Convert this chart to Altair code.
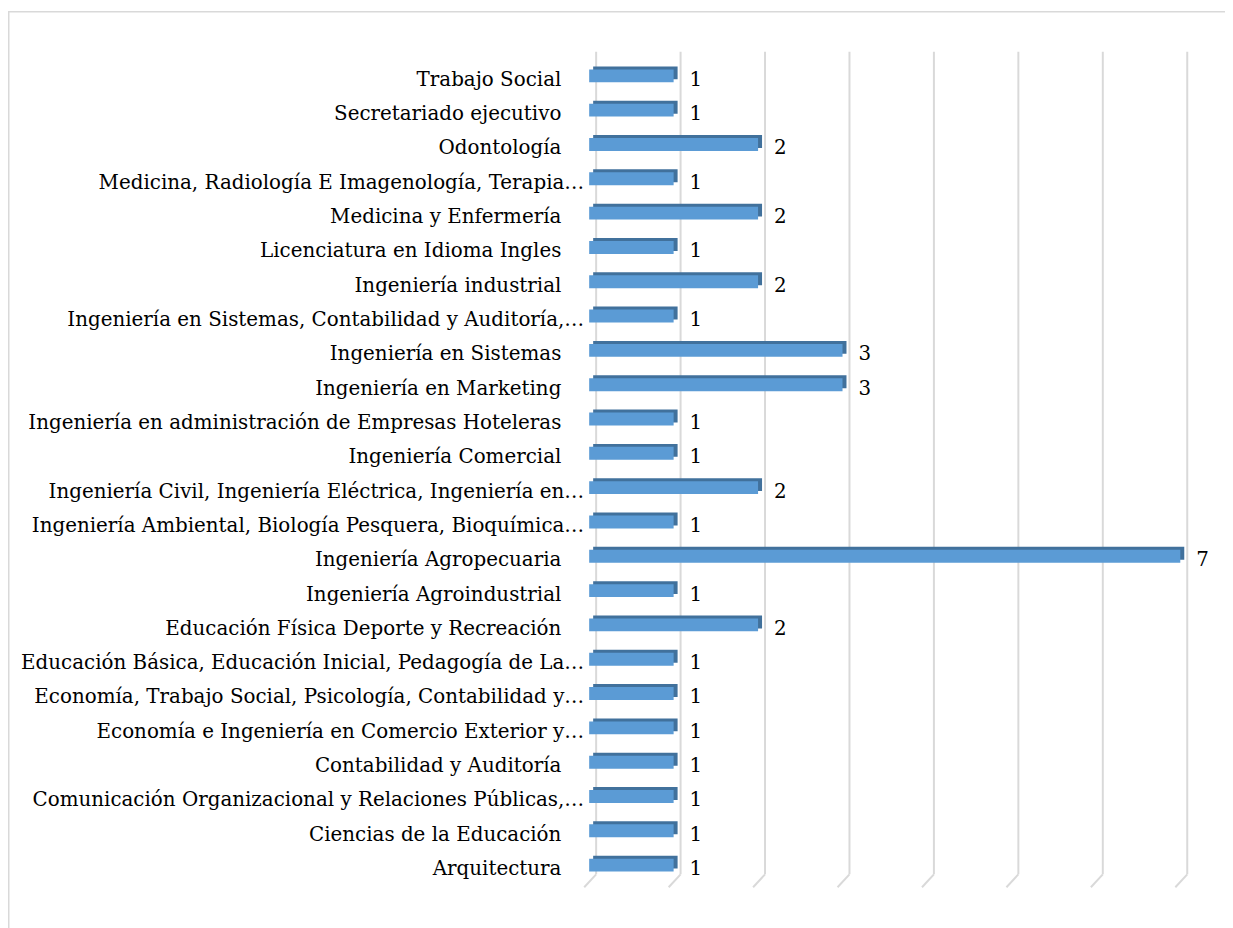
import altair as alt
import pandas as pd

categories = [
    "Trabajo Social",
    "Secretariado ejecutivo",
    "Odontología",
    "Medicina, Radiología E Imagenología, Terapia…",
    "Medicina y Enfermería",
    "Licenciatura en Idioma Ingles",
    "Ingeniería industrial",
    "Ingeniería en Sistemas, Contabilidad y Auditoría,…",
    "Ingeniería en Sistemas",
    "Ingeniería en Marketing",
    "Ingeniería en administración de Empresas Hoteleras",
    "Ingeniería Comercial",
    "Ingeniería Civil, Ingeniería Eléctrica, Ingeniería en…",
    "Ingeniería Ambiental, Biología Pesquera, Bioquímica…",
    "Ingeniería Agropecuaria",
    "Ingeniería Agroindustrial",
    "Educación Física Deporte y Recreación",
    "Educación Básica, Educación Inicial, Pedagogía de La…",
    "Economía, Trabajo Social, Psicología, Contabilidad y…",
    "Economía e Ingeniería en Comercio Exterior y…",
    "Contabilidad y Auditoría",
    "Comunicación Organizacional y Relaciones Públicas,…",
    "Ciencias de la Educación",
    "Arquitectura",
]
values = [1, 1, 2, 1, 2, 1, 2, 1, 3, 3, 1, 1, 2, 1, 7, 1, 2, 1, 1, 1, 1, 1, 1, 1]
grid_ticks = [0, 1, 2, 3, 4, 5, 6, 7]

df = pd.DataFrame({"cat": categories, "v": values})
grid = pd.DataFrame({"g": grid_ticks, "g2": grid_ticks})

W, H = 595, 829
PL, PT = 585, 48
FONT = "DejaVu Serif"
FS = 20
TDY = 4

xs = alt.Scale(domain=[0, 7], nice=False, zero=True)
ys = alt.Scale(domain=categories, paddingInner=0, paddingOuter=0)
X = alt.X("v:Q", scale=xs, axis=None)
Y = alt.Y("cat:N", scale=ys, sort=categories, axis=None)

border_left = alt.Chart(pd.DataFrame({"a": [0]})).mark_rule(
    color="#D9D9D9", strokeWidth=1.5
).encode(x=alt.value(0.75 - PL), y=alt.value(-PT), y2=alt.value(H + 60))
border_top = alt.Chart(pd.DataFrame({"a": [0]})).mark_rule(
    color="#D9D9D9", strokeWidth=1.5
).encode(y=alt.value(0.75 - PT), x=alt.value(-PL), x2=alt.value(W + 60))

grid_v = alt.Chart(grid).mark_rule(color="#D9D9D9", strokeWidth=2, xOffset=7).encode(
    x=alt.X("g:Q", scale=xs, axis=None), y=alt.value(-7), y2=alt.value(H - 8)
)
grid_s = alt.Chart(grid).mark_rule(
    color="#D9D9D9", strokeWidth=2, xOffset=7, x2Offset=-5
).encode(
    x=alt.X("g:Q", scale=xs, axis=None), x2="g2:Q", y=alt.value(H - 8), y2=alt.value(H + 5)
)

back = alt.Chart(df).mark_bar(
    color="#41719C", size=13, xOffset=4, x2Offset=4, yOffset=-3, y2Offset=-3
).encode(x=X, y=Y)
front = alt.Chart(df).mark_bar(color="#5B9BD5", size=13).encode(x=X, y=Y)

vals = alt.Chart(df).mark_text(
    align="left", baseline="middle", dx=16, dy=TDY, font=FONT, fontSize=FS, color="#000000"
).encode(x=X, y=Y, text="v:Q")

lab_trunc = alt.Chart(df).transform_filter("indexof(datum.cat, '…') >= 0").mark_text(
    align="right", baseline="middle", dy=TDY, font=FONT, fontSize=FS, color="#000000"
).encode(x=alt.value(-5), y=Y, text="cat:N")
lab_full = alt.Chart(df).transform_filter("indexof(datum.cat, '…') < 0").mark_text(
    align="right", baseline="middle", dy=TDY, font=FONT, fontSize=FS, color="#000000"
).encode(x=alt.value(-28), y=Y, text="cat:N")

chart = alt.layer(
    border_left, border_top, grid_v, grid_s, back, front, vals, lab_trunc, lab_full
).properties(
    width=W, height=H,
    autosize=alt.AutoSizeParams(type="none"),
    padding={"left": PL, "top": PT, "right": 1225 - PL - W, "bottom": 920 - PT - H},
).configure(background="white").configure_view(stroke=None)

chart.save("out.html", embed_options={"renderer": "svg", "actions": False})
